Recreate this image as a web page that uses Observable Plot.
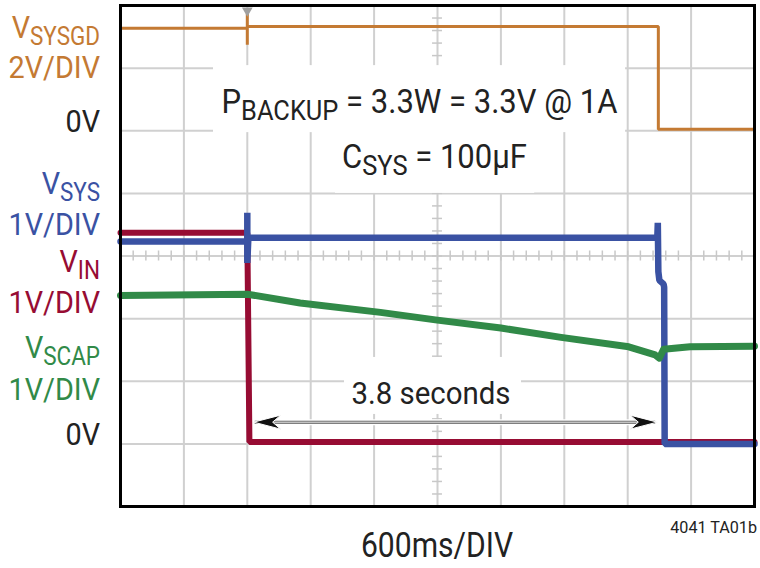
<!DOCTYPE html>
<html><head><meta charset="utf-8">
<script src="https://cdn.jsdelivr.net/npm/d3@7"></script>
<script src="https://cdn.jsdelivr.net/npm/@observablehq/plot@0.6"></script>
<style>
html,body{margin:0;padding:0;background:#fff;}
</style></head><body><div id="chart"></div>
<script>
// time in seconds relative to input collapse, 600 ms/div
const vsysgdT = [-1.2, 0, 0, 0, 0, 3.89, 3.89, 4.8];
const vsysgdV = [3.27, 3.27, 3.75, 2.75, 3.33, 3.33, 0.05, 0.05];
const vsysT = [-1.2, 0, 0, 0, 0.01, 3.88, 3.885, 3.89, 3.9, 3.94, 3.945, 3.95, 4.8];
const vsysV = [3.23, 3.23, 3.69, 2.89, 3.29, 3.29, 3.53, 2.75, 2.61, 2.55, 2.5, 0, 0];
const vinT = [-1.2, 0, 0.02, 4.8];
const vinV = [3.37, 3.37, 0.03, 0.03];
const vscapT = [-1.2, 0, 0.5, 1.26, 1.78, 2.4, 2.97, 3.61, 3.86, 3.9, 3.94, 4.19, 4.8];
const vscapV = [2.37, 2.39, 2.25, 2.10, 1.98, 1.85, 1.70, 1.55, 1.42, 1.37, 1.51, 1.55, 1.56];
const channelNames = [["V", "SYSGD"], ["V", "SYS"], ["V", "IN"], ["V", "SCAP"]];
const channelScales = ["2V/DIV", "1V/DIV", "1V/DIV", "1V/DIV"];
const zeroLabel = "0V";
const timebaseLabel = "600ms/DIV";
const figureId = "4041 TA01b";
const intervalLabel = "3.8 seconds";

const colors = {orange: "#c47a33", blue: "#3a52a3", red: "#970c33", green: "#318a48"};
const FONT = 'Roboto,"Liberation Sans",sans-serif';

const toDiv = (zero, vdiv) => v => zero + v / vdiv;
const series = (T, V, f) => T.map((t, i) => ({t, d: f(V[i])}));
const sysgd = series(vsysgdT, vsysgdV, toDiv(6, 2));
const sys = series(vsysT, vsysV, toDiv(1, 1));
const vin = series(vinT, vinV, toDiv(1, 1));
const scap = series(vscapT, vscapV, toDiv(1, 1));

const gridT = d3.range(0, 11).map(i => -1.2 + i * 0.6);
const gridD = d3.range(0, 9);
const minorT = d3.range(0, 51).map(i => -1.2 + i * 0.12);
const minorD = d3.range(0, 41).map(i => i * 0.2);

const arrowHead = {
  draw(ctx) {
    ctx.moveTo(0, 0); ctx.lineTo(-27, -7); ctx.lineTo(-19, 0); ctx.lineTo(-27, 7); ctx.closePath();
  }
};

const plot = Plot.plot({
  width: 760, height: 568,
  marginLeft: 120, marginRight: 6, marginTop: 5, marginBottom: 62,
  x: {domain: [-1.2, 4.8], axis: null},
  y: {domain: [0, 8], axis: null},
  marks: [
    Plot.ruleX(gridT, {stroke: "#d0d0d0", strokeWidth: 2}),
    Plot.ruleY(gridD, {stroke: "#d0d0d0", strokeWidth: 2}),
    Plot.ruleX(minorT, {y1: 4 - 0.08, y2: 4 + 0.08, stroke: "#c8c8c8", strokeWidth: 1.5}),
    Plot.ruleY(minorD, {x1: 1.8 - 0.047, x2: 1.8 + 0.047, stroke: "#c8c8c8", strokeWidth: 1.5}),
    Plot.rect([0], {x1: -0.32, x2: 3.58, y1: 5.97, y2: 7.04, fill: "#fff"}),
    Plot.rect([0], {x1: 0.835, x2: 2.72, y1: 5.0, y2: 6.0, fill: "#fff"}),
    Plot.rect([0], {x1: 0.92, x2: 2.595, y1: 1.47, y2: 2.38, fill: "#fff"}),
    Plot.line(sysgd, {x: "t", y: "d", stroke: colors.orange, strokeWidth: 3, strokeLinejoin: "miter"}),
    Plot.line(vin, {x: "t", y: "d", stroke: colors.red, strokeWidth: 6, strokeLinejoin: "miter"}),
    Plot.line(sys, {x: "t", y: "d", stroke: colors.blue, strokeWidth: 6.5, strokeLinejoin: "miter"}),
    Plot.line(scap, {x: "t", y: "d", stroke: colors.green, strokeWidth: 7}),
    Plot.frame({stroke: "#000", strokeWidth: 3}),
    Plot.link([0], {x1: 0.07, x2: 3.86, y1: 1.347, y2: 1.347, stroke: "#fff", strokeWidth: 6}),
    Plot.link([0], {x1: 0.07, x2: 3.86, y1: 1.347, y2: 1.347, stroke: "#555", strokeWidth: 3}),
    Plot.link([0], {x1: 0.07, x2: 3.86, y1: 1.347, y2: 1.347, stroke: "#fff", strokeWidth: 1}),
    Plot.dot([0], {x: 3.88, y: 1.347, symbol: arrowHead, fill: "#111", stroke: "#fff", strokeWidth: 1}),
    Plot.dot([0], {x: 0.06, y: 1.347, symbol: arrowHead, rotate: 180, fill: "#111", stroke: "#fff", strokeWidth: 1}),
    Plot.dot([0], {x: 0, y: 8, dy: 5, symbol: "triangle", rotate: 180, r: 4, fill: "#a0a0a0"})
  ]
});

document.getElementById("chart").appendChild(plot);

const sx = plot.scale("x"), sy = plot.scale("y");
const svg = d3.select(plot);
const g = svg.append("g");

function addText(x, y, parts, {anchor = "end", size = 32, color = "#222", subShift = 8, subScale = 0.8, squeeze = 0.9} = {}) {
  const t = g.append("text")
    .attr("transform", `translate(${x},${y}) scale(${squeeze},1)`)
    .attr("text-anchor", anchor)
    .style("font-family", FONT)
    .style("font-size", size + "px")
    .attr("fill", color);
  let shifted = 0;
  for (const [txt, sub] of parts) {
    const ts = t.append("tspan").text(txt);
    if (sub && !shifted) { ts.attr("dy", subShift).style("font-size", (size * subScale) + "px"); shifted = 1; }
    else if (sub) { ts.style("font-size", (size * subScale) + "px"); }
    else if (shifted) { ts.attr("dy", -subShift); shifted = 0; }
  }
  return t;
}

const lx = sx.apply(-1.2) - 20;
const nameRows = [7.48, 4.98, 3.74, 2.37];
const scaleRows = [6.84, 4.33, 3.08, 1.69];
const chColors = [colors.orange, colors.blue, colors.red, colors.green];
channelNames.forEach((nm, i) => {
  addText(lx, sy.apply(nameRows[i]), [[nm[0], false], [nm[1], true]], {color: chColors[i], subShift: 7, subScale: 0.78});
  addText(lx, sy.apply(scaleRows[i]), [[channelScales[i], false]], {color: chColors[i]});
});
addText(lx, sy.apply(5.97), [[zeroLabel, false]]);
addText(lx, sy.apply(0.97), [[zeroLabel, false]]);

addText(sx.apply(1.634), sy.apply(6.28), [["P", false], ["BACKUP", true], [" = 3.3W = 3.3V @ 1A", false]], {anchor: "middle", size: 33, subShift: 7, subScale: 0.82, squeeze: 0.94});
addText(sx.apply(1.776), sy.apply(5.40), [["C", false], ["SYS", true], [" = 100µF", false]], {anchor: "middle", size: 33, subShift: 7, subScale: 0.82, squeeze: 0.94});
addText(sx.apply(1.743), sy.apply(1.63), [[intervalLabel, false]], {anchor: "middle", size: 32, squeeze: 0.92});
addText(sx.apply(1.8), 557, [[timebaseLabel, false]], {anchor: "middle", size: 35, squeeze: 0.86});
addText(sx.apply(4.8) + 3, 533, [[figureId, false]], {anchor: "end", size: 17, squeeze: 0.95});
</script></body></html>
